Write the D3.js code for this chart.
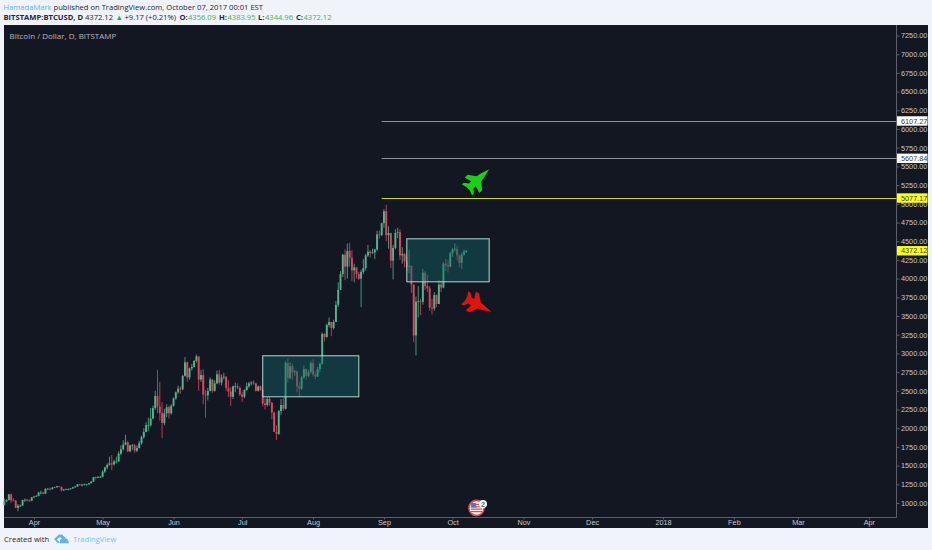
<!DOCTYPE html>
<html>
<head>
<meta charset="utf-8">
<script src="https://cdn.jsdelivr.net/npm/d3@7"></script>
<style>
html,body{margin:0;padding:0;background:#f0f3fa;}
svg{display:block;}
.ax text{font-family:"Liberation Sans",Arial,sans-serif;font-size:7.3px;fill:#c4c8d0;}
.ax path{display:none;}
.ax line{stroke:#5d606b;}
.hd{font-family:"Open Sans",sans-serif;font-size:7.6px;fill:#23262e;}
</style>
</head>
<body>
<svg id="c" width="932" height="550"></svg>
<script>
// Daily candles, one per day from 2017-03-19 to 2017-10-07 (one row per month)
const firstDay = "2017-03-19";
const opens = [
970,1020,1040,1115,1035,1030,935,965,965,1040,1045,1035,1030,
1075,1085,1095,1140,1140,1125,1190,1190,1185,1205,1210,1225,1215,1170,1180,1185,1185,1195,1210,1220,1250,1245,1245,1250,1250,1265,1285,1345,1340,1350,
1350,1420,1475,1510,1530,1515,1555,1555,1660,1720,1780,1810,1690,1770,1770,1700,1735,1800,1880,1950,2040,2040,2130,2270,2430,2290,2200,2070,2200,2280,2200,
2300,2400,2480,2530,2520,2700,2880,2680,2800,2820,2900,2960,2650,2710,2450,2440,2500,2650,2500,2600,2720,2610,2680,2690,2540,2490,2420,2560,2560,2540,
2450,2420,2510,2560,2600,2610,2600,2500,2560,2510,2330,2310,2390,2340,2210,1950,1925,2230,2310,2260,2870,2670,2830,2750,2760,2560,2530,2680,2790,2700,2750,
2870,2720,2690,2790,2860,3260,3220,3380,3420,3340,3420,3650,3850,4060,4320,4160,4370,4280,4110,4150,4060,4000,4090,4140,4310,4360,4340,4350,4390,4590,4580,
4740,4900,4580,4610,4240,4410,4610,4620,4310,4330,4230,4160,4170,3920,3240,3690,3700,3690,4080,3900,3870,3610,3600,3780,3660,3920,3880,4200,4180,4160,
4340,4390,4400,4310,4210,4320,4356.09];
const highs = [
1060,1055,1120,1125,1065,1040,985,980,1045,1060,1055,1050,1080,
1095,1105,1150,1165,1145,1195,1200,1205,1215,1215,1230,1225,1220,1190,1190,1195,1200,1215,1230,1255,1255,1255,1260,1255,1270,1295,1350,1355,1360,1365,
1440,1485,1530,1620,1640,1580,1620,1690,1770,1840,1912,1830,1780,1790,1790,1770,1830,1900,2000,2080,2140,2270,2300,2500,2780,2620,2350,2260,2320,2300,2320,
2410,2490,2570,2560,2710,2950,2890,2810,2860,2910,2985,2960,2780,2790,2510,2540,2680,2660,2640,2770,2780,2720,2740,2690,2640,2550,2570,2610,2600,2560,
2490,2520,2610,2620,2630,2640,2610,2570,2570,2530,2400,2420,2420,2350,2220,2040,2240,2390,2400,2900,2930,2880,2860,2780,2770,2620,2700,2840,2800,2780,2900,
2920,2760,2820,2880,3280,3270,3400,3480,3420,3450,3700,3950,4100,4330,4390,4470,4480,4380,4200,4150,4090,4120,4260,4330,4450,4380,4400,4400,4640,4640,4750,
4930,4985,4700,4600,4450,4660,4680,4660,4420,4340,4300,4380,4180,3920,3760,3900,3730,4130,4100,4050,3900,3730,3820,3790,3980,3970,4220,4260,4250,4360,
4410,4470,4440,4320,4350,4390,4383.95];
const lows = [
970,1015,1035,1000,1025,930,890,945,965,1015,1020,1015,1025,
1070,1080,1090,1120,1115,1120,1180,1170,1180,1200,1205,1210,1155,1160,1175,1170,1180,1190,1205,1215,1230,1220,1235,1235,1245,1260,1285,1315,1330,1335,
1340,1400,1450,1500,1440,1500,1530,1550,1640,1700,1770,1680,1680,1710,1670,1680,1730,1780,1860,1950,1960,2020,2120,2240,2200,2100,1870,2040,2150,2130,2180,
2290,2380,2460,2460,2510,2690,2620,2650,2770,2810,2880,2500,2620,2320,2140,2370,2490,2470,2490,2590,2580,2570,2650,2500,2420,2300,2390,2480,2520,2430,
2350,2400,2500,2540,2570,2580,2490,2490,2500,2290,2250,2290,2300,2120,1950,1840,1910,2180,2230,2250,2610,2650,2650,2700,2480,2420,2510,2660,2650,2680,2730,
2690,2660,2690,2750,2850,3160,3210,3350,3230,3320,3420,3620,3850,4020,3980,4000,4160,3970,3950,4000,3980,3620,4060,4110,4290,4280,4330,4260,4370,4530,4570,
4680,4500,4400,4140,3990,4390,4540,4250,4200,4150,4100,4070,3810,3150,2972,3480,3510,3650,3850,3820,3570,3520,3570,3620,3660,3820,3870,4100,4080,4150,
4290,4360,4240,4150,4130,4310,4344.96];
const closes = [
1020,1040,1115,1035,1030,935,965,965,1040,1045,1035,1030,1075,
1085,1095,1140,1140,1125,1190,1190,1185,1205,1210,1225,1215,1170,1180,1185,1185,1195,1210,1220,1250,1245,1245,1250,1250,1265,1285,1345,1340,1350,1350,
1420,1475,1510,1530,1515,1555,1555,1660,1720,1780,1810,1690,1770,1770,1700,1735,1800,1880,1950,2040,2040,2130,2270,2430,2290,2200,2070,2200,2280,2200,2300,
2400,2480,2530,2520,2700,2880,2680,2800,2820,2900,2960,2650,2710,2450,2440,2500,2650,2500,2600,2720,2610,2680,2690,2540,2490,2420,2560,2560,2540,2450,
2420,2510,2560,2600,2610,2600,2500,2560,2510,2330,2310,2390,2340,2210,1950,1925,2230,2310,2260,2870,2670,2830,2750,2760,2560,2530,2680,2790,2700,2750,2870,
2720,2690,2790,2860,3260,3220,3380,3420,3340,3420,3650,3850,4060,4320,4160,4370,4280,4110,4150,4060,4000,4090,4140,4310,4360,4340,4350,4390,4590,4580,4740,
4900,4580,4610,4240,4410,4610,4620,4310,4330,4230,4160,4170,3920,3240,3690,3700,3690,4080,3900,3870,3610,3600,3780,3660,3920,3880,4200,4180,4160,4340,
4390,4400,4310,4210,4320,4362.95,4372.12];

const priceTicks = [1000,1250,1500,1750,2000,2250,2500,2750,3000,3250,3500,3750,4000,4250,4500,4750,5000,5250,5500,5750,6000,6250,6500,6750,7000,7250];
const timeTickDates = ["2017-04-01","2017-05-01","2017-06-01","2017-07-01","2017-08-01","2017-09-01","2017-10-01","2017-11-01","2017-12-01","2018-01-01","2018-02-01","2018-03-01","2018-04-01"];
const timeTickLabels = ["Apr","May","Jun","Jul","Aug","Sep","Oct","Nov","Dec","2018","Feb","Mar","Apr"];

const levelValues = [6107.27,5607.84,5077.17];
const levelColors = ["#8f939c","#8f939c","#d2d23a"];
const levelBadgeColors = ["#ffffff","#ffffff","#ffff14"];
const levelStart = "2017-08-31";
const lastPrice = 4372.12;

const boxStarts = ["2017-07-10","2017-09-11"];
const boxEnds = ["2017-08-21","2017-10-17"];
const boxTops = [2968,4532];
const boxBottoms = [2420,3957];

const planeDates = ["2017-10-12","2017-10-12"];
const planePrices = [5320,3650];
const planeAngles = [-43,28];
const planeColors = ["#19d016","#e01313"];

const upColor = "#4fb78f", downColor = "#dc4860";

const parse = s => new Date(s + "T00:00:00Z");
const svg = d3.select("#c");
const x = d3.scaleUtc().domain([parse("2017-04-01"), parse("2018-01-01")]).range([34, 663]);
const y = d3.scaleLinear().domain([1000, 7250]).range([503, 35.5]);

// panels
svg.append("rect").attr("x",4).attr("y",25).attr("width",924).attr("height",503).attr("fill","#131722");
svg.append("line").attr("x1",4).attr("x2",896.5).attr("y1",517.5).attr("y2",517.5).attr("stroke","#5d606b");
svg.append("line").attr("x1",896.5).attr("x2",896.5).attr("y1",25).attr("y2",517.5).attr("stroke","#5d606b");

// axes
const yAxis = d3.axisRight(y).tickValues(priceTicks).tickSize(3).tickPadding(1.5).tickFormat(d3.format(".2f"));
svg.append("g").attr("class","ax").attr("transform","translate(896.5,0)").call(yAxis);
const xAxis = d3.axisBottom(x).tickValues(timeTickDates.map(parse)).tickSize(2).tickPadding(0.5)
  .tickFormat((d,i)=>timeTickLabels[i]);
svg.append("g").attr("class","ax").attr("transform","translate(0,517.5)").call(xAxis);

// candles
const days = closes.map((c,i)=>({
  date:d3.utcDay.offset(parse(firstDay),i), o:opens[i], h:highs[i], l:lows[i], c:c
}));
const g = svg.append("g").style("filter","blur(0.3px)");
g.selectAll("line.w").data(days).join("line").attr("class","w")
  .attr("x1",d=>x(d.date)).attr("x2",d=>x(d.date))
  .attr("y1",d=>y(d.h)).attr("y2",d=>y(d.l))
  .attr("stroke",d=>d.c>=d.o?upColor:downColor).attr("stroke-width",0.8);
g.selectAll("rect.b").data(days).join("rect").attr("class","b")
  .attr("x",d=>x(d.date)-0.95).attr("width",1.9)
  .attr("y",d=>y(Math.max(d.o,d.c)))
  .attr("height",d=>Math.max(0.8,Math.abs(y(d.o)-y(d.c))))
  .attr("fill",d=>d.c>=d.o?upColor:downColor);

// boxes
boxStarts.forEach((s,i)=>{
  svg.append("rect")
    .attr("x",x(parse(s))).attr("width",x(parse(boxEnds[i]))-x(parse(s)))
    .attr("y",y(boxTops[i])).attr("height",y(boxBottoms[i])-y(boxTops[i]))
    .attr("fill","rgba(16,100,100,0.45)").attr("stroke","#b4d6d2").attr("stroke-width",1);
});

// level lines
levelValues.forEach((v,i)=>{
  svg.append("line").attr("x1",x(parse(levelStart))).attr("x2",896.5)
    .attr("y1",Math.round(y(v))+.5).attr("y2",Math.round(y(v))+.5)
    .attr("stroke",levelColors[i]).attr("stroke-width",1);
});

// price badges
function badge(v,bg){
  const cy=y(v);
  svg.append("rect").attr("x",897).attr("y",cy-4.7).attr("width",30.5).attr("height",9.4).attr("fill",bg);
  svg.append("text").attr("x",901).attr("y",cy+2.6).text(v.toFixed(2))
    .attr("font-family","Liberation Sans,Arial,sans-serif").attr("font-size",7.3).attr("fill","#3a3d46");
}
levelValues.forEach((v,i)=>badge(v,levelBadgeColors[i]));
badge(lastPrice,"#ffff14");

// planes
const planePath = "M19,0 L8,-3 L2,-4.2 L-5,-13 L-9.5,-13 L-7,-4.2 L-11,-4.2 L-15,-9 L-18,-9 L-16,-3 L-16,3 L-18,9 L-15,9 L-11,4.2 L-7,4.2 L-9.5,13 L-5,13 L2,4.2 L8,3 Z";
planeDates.forEach((d,i)=>{
  svg.append("path").attr("d",planePath).attr("fill",planeColors[i])
    .attr("transform",`translate(${x(parse(d))},${y(planePrices[i])}) rotate(${planeAngles[i]}) scale(0.82)`);
});

// events icon
const ev = svg.append("g").attr("transform","translate(476.5,508)");
ev.append("circle").attr("r",7.6).attr("fill","#f3eef0").attr("stroke","#d9475a").attr("stroke-width",1.6);
[-3.6,-1.2,1.2,3.6].forEach(d=>ev.append("rect").attr("x",-5.6).attr("y",d-.6).attr("width",11.2).attr("height",1.2).attr("fill","#d9475a"));
ev.append("rect").attr("x",-5.4).attr("y",-5).attr("width",5).attr("height",4.6).attr("fill","#4a7fc4");
ev.append("circle").attr("cx",6.5).attr("cy",-4).attr("r",4).attr("fill","#ffffff");
ev.append("text").attr("x",6.5).attr("y",-1.4).attr("text-anchor","middle").attr("font-size",7).attr("font-weight","bold")
  .attr("font-family","Liberation Sans,sans-serif").attr("fill","#555").text("2");

// header text
const t1 = svg.append("text").attr("class","hd").attr("x",3.5).attr("y",9.8);
t1.append("tspan").style("fill","#5fb2dc").text("HamadaMark");
t1.append("tspan").text(" published on TradingView.com, October 07, 2017 00:01 EST");
const headerRow = [
  ["BITSTAMP:BTCUSD, D",3.5,"#23262e","bold"],["4372.12",85,"#23262e","normal"],["▲",115.5,"#2fae3c","normal"],
  ["+9.17 (+0.21%)",124.5,"#23262e","normal"],
  ["O:",179.5,"#23262e","bold"],["4356.09",188,"#3db54a","normal"],
  ["H:",219,"#23262e","bold"],["4383.95",227.5,"#3db54a","normal"],
  ["L:",258,"#23262e","bold"],["4344.96",265,"#3db54a","normal"],
  ["C:",296,"#23262e","bold"],["4372.12",303.5,"#3db54a","normal"]];
headerRow.forEach(r=>{
  svg.append("text").attr("class","hd").attr("x",r[1]).attr("y",20.2).style("fill",r[2]).style("font-weight",r[3]).text(r[0]);
});
svg.append("text").attr("x",9.5).attr("y",38.5).text("Bitcoin / Dollar, D, BITSTAMP")
  .attr("font-family","Open Sans,sans-serif").attr("font-size",8).attr("fill","#b4b8c0");

// footer
svg.append("text").attr("class","hd").attr("x",4).attr("y",542.2).text("Created with");
const logo = svg.append("g").attr("transform","translate(54,534)").attr("fill","#5fb7e6");
logo.append("path").attr("d","M0,5 L5,0.5 L8,0.5 L11,3.5 L9,5.5 L6,3 L3,5.5 L6,8.5 L4,9.2 Z");
logo.append("path").attr("d","M6,6 L10,2.5 L14,6 L15,9.2 L6,9.2 Z");
svg.append("text").attr("class","hd").attr("x",73).attr("y",542.2).style("fill","#74c2ea").text("TradingView");
</script>
</body>
</html>
